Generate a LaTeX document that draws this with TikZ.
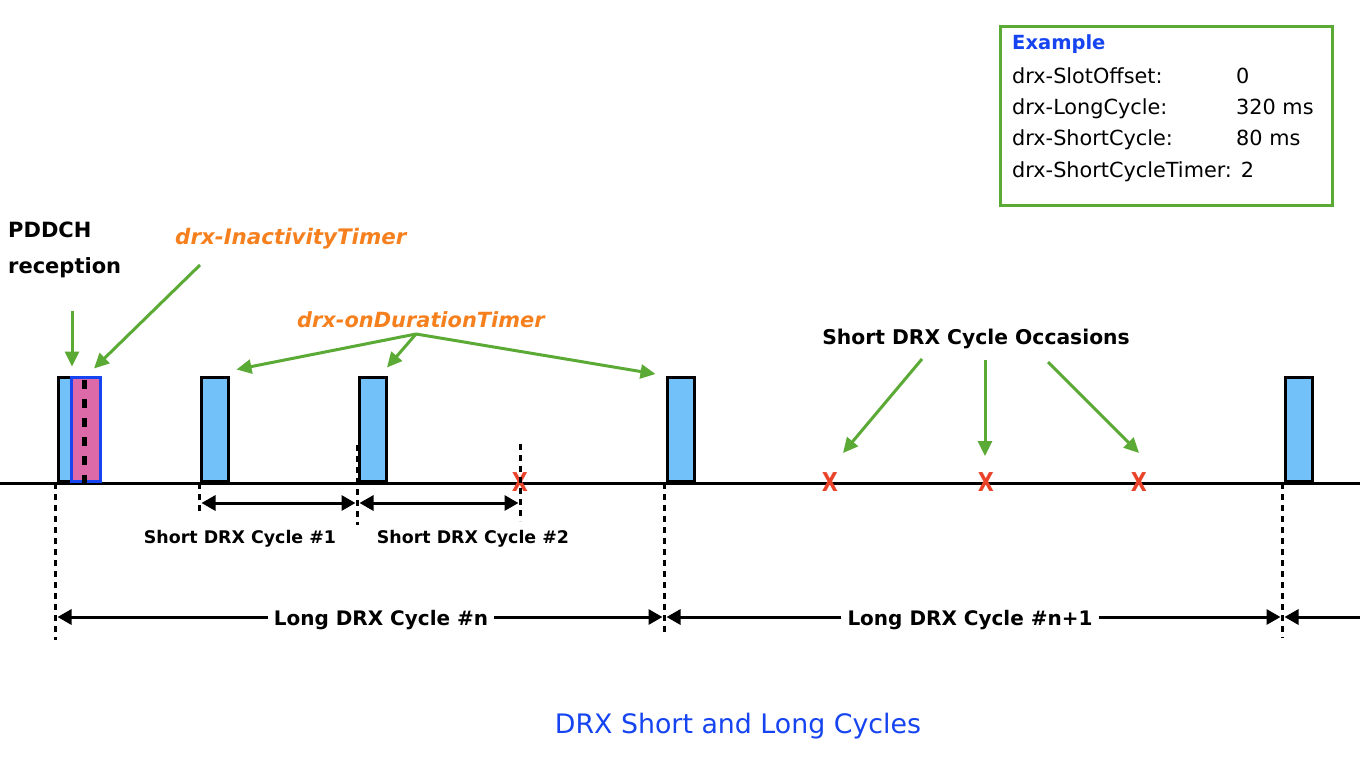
\documentclass[tikz,border=0pt]{standalone}
\usepackage{fontspec}
\setmainfont{DejaVu Sans}
\usetikzlibrary{arrows.meta}
\definecolor{grn}{HTML}{5AAA35}
\definecolor{org}{HTML}{F6801E}
\definecolor{lblue}{HTML}{72C1F8}
\definecolor{pinkf}{HTML}{DC69A8}
\definecolor{xred}{HTML}{E9432A}
\definecolor{tblue}{HTML}{1544F0}
\begin{document}
\begin{tikzpicture}[x=1pt,y=-1pt,
  blk/.style={draw=black, fill=lblue, line width=3pt, minimum width=27pt, minimum height=104.5pt, inner sep=0pt, anchor=south west},
  pinkblk/.style={draw=tblue, fill=pinkf, line width=3pt, minimum width=29.5pt, minimum height=104.5pt, inner sep=0pt, anchor=south west},
  vdash/.style={line width=3pt, dash pattern=on 6pt off 5pt},
  garrow/.style={draw=grn, line width=3pt, -{Triangle[length=15pt,width=14pt]}},
  dimarrow/.style={line width=3pt, -{Triangle[length=14pt,width=15pt]}},
  dimboth/.style={line width=3pt, {Triangle[length=14pt,width=15pt]}-{Triangle[length=14pt,width=15pt]}},
  lbl/.style={inner sep=0pt, anchor=base west},
  xmark/.style={text=xred, font=\fontsize{26}{26}\selectfont\bfseries, inner sep=0pt},
  cyc/.style={inner sep=0pt, anchor=base, font=\fontsize{17.4}{20}\selectfont\bfseries},
  lcyc/.style={inner sep=6pt, anchor=base, font=\fontsize{20}{24}\selectfont\bfseries},
  extxt/.style={inner sep=0pt, anchor=base west, font=\fontsize{20.8}{24}\selectfont},
]
\useasboundingbox (0,0) rectangle (1360,784);

% baseline
\coordinate (bl0) at (0,483);
\coordinate (bl1) at (1360,483);
\draw[line width=3pt] (bl0) -- (bl1);

% blocks
\node[blk] (b1) at (56.5,483) {};
\node[pinkblk] (p1) at (69.5,483) {};
\node[blk] (b2) at (199.5,483) {};
\node[blk] (b3) at (358,483) {};
\node[blk] (b4) at (665.5,483) {};
\node[blk] (b5) at (1283.5,483) {};
\coordinate (pd0) at (84.5,380);
\draw[line width=4.5pt, dash pattern=on 9pt off 10pt] (pd0) -- (pd0 |- p1.south);

% X marks
\node[xmark] (x1) at (520,482) {\scalebox{0.8}[1]{X}};
\node[xmark] (x2) at (830,482) {\scalebox{0.8}[1]{X}};
\node[xmark] (x3) at (986,482) {\scalebox{0.8}[1]{X}};
\node[xmark] (x4) at (1139,482) {\scalebox{0.8}[1]{X}};

% dashed verticals
\coordinate (d1a) at (55.5,483);   \coordinate (d1b) at (55.5,640);
\coordinate (d2a) at (199.5,483);  \coordinate (d2b) at (199.5,513);
\coordinate (d3a) at (357.5,445);  \coordinate (d3b) at (357.5,525);
\coordinate (d4a) at (520.5,444);  \coordinate (d4b) at (520.5,521);
\coordinate (d5a) at (664.5,483);  \coordinate (d5b) at (664.5,636);
\coordinate (d6a) at (1282.5,483); \coordinate (d6b) at (1282.5,638);
\foreach \a/\b in {d1a/d1b,d2a/d2b,d3a/d3b,d4a/d4b,d5a/d5b,d6a/d6b}
  \draw[vdash] (\a) -- (\b);

% short cycles
\coordinate (s0) at (199.5,503);
\coordinate (s1) at (357.5,503);
\coordinate (s2) at (520.5,503);
\draw[dimboth, shorten <=2pt, shorten >=2pt] (s0) -- (s1);
\draw[dimboth, shorten <=2pt, shorten >=2pt] (s1) -- (s2);
\node[cyc] (sc1) at (240,543) {Short DRX Cycle \#1};
\node[cyc] (sc2) at (473,543) {Short DRX Cycle \#2};

% long cycles
\coordinate (l0) at (55.5,617);
\coordinate (l1) at (664.5,617);
\coordinate (l2) at (1282.5,617);
\coordinate (l3) at (1360,617);
\node[lcyc] (lc1) at (381,625) {Long DRX Cycle \#n};
\node[lcyc] (lc2) at (970,625) {Long DRX Cycle \#n+1};
\draw[dimarrow, shorten >=2pt] (lc1.west |- l0) -- (l0);
\draw[dimarrow, shorten >=2pt] (lc1.east |- l1) -- (l1);
\draw[dimarrow, shorten >=2pt] (lc2.west |- l1) -- (l1);
\draw[dimarrow, shorten >=2pt] (lc2.east |- l2) -- (l2);
\draw[dimarrow, shorten >=2pt] (l3) -- (l2);

% labels top-left
\node[lbl, font=\fontsize{21}{24}\selectfont\bfseries] (pd1) at (8,237) {PDDCH};
\node[lbl, font=\fontsize{21}{24}\selectfont\bfseries] (pd2) at (8,273) {reception};
\node[lbl, text=org, font=\fontsize{21.4}{24}\selectfont\bfseries\itshape] (it) at (175,244) {drx-InactivityTimer};
\node[lbl, text=org, font=\fontsize{20.9}{24}\selectfont\bfseries\itshape] (od) at (297,327) {drx-onDurationTimer};
\node[inner sep=0pt, anchor=base, font=\fontsize{20.3}{24}\selectfont\bfseries] (so) at (976,344) {Short DRX Cycle Occasions};

% green arrows
\coordinate (a1s) at (72,311);
\draw[garrow, shorten >=9pt] (a1s) -- (a1s |- p1.north);
\coordinate (a2s) at (200,265);
\draw[garrow] (a2s) -- ([shift={(-8,-7)}]p1.north east);
\coordinate (odf) at (416,334);
\draw[garrow] (odf) -- ([shift={(7,-6)}]b2.north east);
\draw[garrow] (odf) -- ([shift={(-1,-8)}]b3.north east);
\draw[garrow] (odf) -- ([shift={(-10,-1.5)}]b4.north west);
\coordinate (o1) at (922,359);
\coordinate (o2) at (985,360);
\coordinate (o3) at (1048,362);
\draw[garrow] (o1) -- ([shift={(13,-29)}]x2.center);
\draw[garrow] (o2) -- ([shift={(-1,-26)}]x3.center);
\draw[garrow] (o3) -- ([shift={(0,-29)}]x4.center);

% example box
\node[draw=grn, line width=3pt, minimum width=332pt, minimum height=178pt, inner sep=0pt, anchor=north west] (exbox) at (998.5,25.5) {};
\node[extxt, text=tblue, font=\fontsize{19.5}{22}\selectfont\bfseries] (exh) at (1012,50) {Example};
\node[extxt] (ex1) at (1012,83) {drx-SlotOffset:};
\node[extxt] (ex2) at (1012,114) {drx-LongCycle:};
\node[extxt] (ex3) at (1012,145) {drx-ShortCycle:};
\node[extxt] (ex4) at (1012,177) {drx-ShortCycleTimer: 2};
\node[extxt] (v1) at (1236,83) {0};
\node[extxt] (v2) at (1236,114) {320 ms};
\node[extxt] (v3) at (1236,145) {80 ms};

% title
\node[inner sep=0pt, anchor=base, text=tblue, font=\fontsize{26.8}{30}\selectfont] (title) at (738,733) {DRX Short and Long Cycles};
\end{tikzpicture}
\end{document}
